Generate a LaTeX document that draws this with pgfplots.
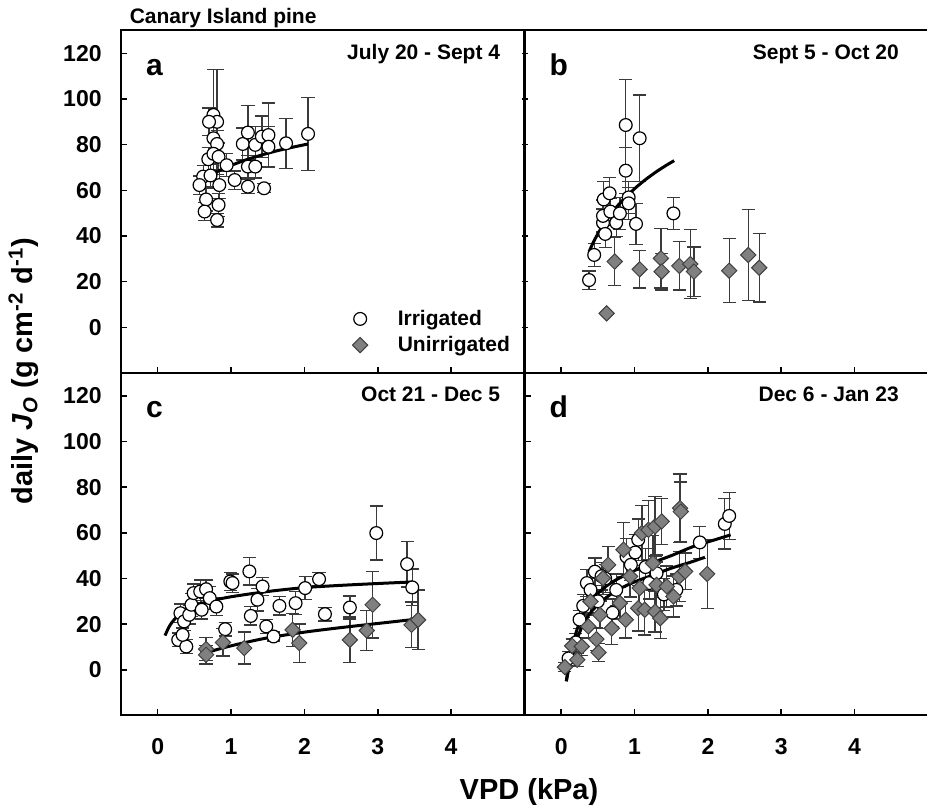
\documentclass[border=0pt]{standalone}
\usepackage{fontspec}
\setmainfont{Liberation Sans}
\usepackage{pgfplots}
\pgfplotsset{compat=1.18}

\definecolor{errgray}{HTML}{3A3A3A}
\definecolor{diafill}{HTML}{808080}

\newcommand{\tickfont}{\fontsize{11.5}{13}\selectfont\bfseries}
\newcommand{\txtfont}{\fontsize{10.5}{12}\selectfont\bfseries}
\newcommand{\lblfont}{\fontsize{14.5}{16}\selectfont\bfseries}

\pgfplotsset{
  panel/.style={
    scale only axis, width=201.75pt, height=171.25pt,
    anchor=south west,
    xmin=-0.5, xmax=5, ymin=-20, ymax=130,
    xtick={0,1,2,3,4}, ytick={0,20,...,120},
    xtick pos=left, ytick pos=left,
    axis line style={line width=1pt},
    every tick/.style={black, line width=0.8pt},
    major tick length=3pt,
    tick label style={font=\tickfont},
    /pgf/number format/assume math mode=true,
    yticklabel style={anchor=east, inner sep=0pt, xshift=-9.5pt},
    xticklabel style={anchor=north, inner sep=0pt, yshift=-11.5pt},
  },
  irr/.style={only marks, mark=*, mark size=3.2pt,
    mark options={fill=white, draw=black, line width=0.6pt},
    error bars/.cd, y dir=both, y explicit,
    error bar style={errgray, line width=0.65pt},
    error mark options={errgray, line width=0.65pt, mark size=3.3pt, rotate=90}},
  unirr/.style={only marks, mark=square*, mark size=2.7pt,
    mark options={rotate=45, fill=diafill, draw=black!75, line width=0.5pt},
    error bars/.cd, y dir=both, y explicit,
    error bar style={errgray, line width=0.65pt},
    error mark options={errgray, line width=0.65pt, mark size=3.3pt, rotate=90}},
  fit/.style={black, line width=1.5pt, smooth, no marks},
}

\begin{document}
\begin{tikzpicture}

% ---- a ----
\begin{axis}[panel, at={(0pt,171.25pt)}, xticklabels={}, xtick align=inside,
  legend style={draw=none, fill=none, at={(rel axis cs:0.558,0.209)}, anchor=north west,
    font=\txtfont, row sep=0pt, /tikz/every odd column/.append style={column sep=13pt}},
  legend cell align=left]
 \addplot[irr] table[x=x, y=y, y error=e] {
x y e
0.76 93.0 20
0.81 90.0 23
0.70 90.0 6
0.76 82.8 8
0.81 80.3 6
0.69 73.6 5
0.76 76.0 7
0.83 74.7 6
0.62 66.0 5
0.57 62.3 4
0.66 56.0 5
0.64 50.7 4
0.83 53.6 5
0.81 47.0 3
0.84 62.3 6
0.72 66.5 5
0.94 71.0 5
1.05 64.5 4
1.16 80.3 7
1.23 85.3 12
1.23 70.4 5
1.23 61.6 3
1.33 70.4 5
1.33 79.9 8
1.42 83.5 9
1.51 84.2 14
1.51 79.1 9
1.45 60.9 2
1.75 80.6 11
2.05 84.7 16
 };
 \addlegendentry{Irrigated}
 \addlegendimage{only marks, mark=square*, mark size=2.7pt, mark options={rotate=45, fill=diafill, draw=black!75, line width=0.5pt}}
 \addlegendentry{Unirrigated}
 \addplot[fit, forget plot] coordinates {(0.52,62.3) (0.6,64.2) (0.7,66.2) (0.8,68) (0.9,69.5) (1.0,70.9) (1.2,73.3) (1.4,75.3) (1.6,77.1) (1.8,78.6) (2.05,80.3)};
 \node[anchor=base west, font=\fontsize{15}{17}\selectfont\bfseries] at (rel axis cs:0.045,0.869) {a};
 \node[anchor=base east, font=\txtfont] at (rel axis cs:0.957,0.916) {July 20 - Sept 4};
\end{axis}

% ---- b ----
\begin{axis}[panel, at={(201.75pt,171.25pt)}, xticklabels={}, yticklabels={}, xtick align=inside, ytick align=center]
 \addplot[irr] table[x=x, y=y, y error=e] {
x y e
0.38 20.7 4
0.45 31.7 5
0.57 45.8 6
0.57 48.8 7
0.60 40.9 6
0.58 56.0 8
0.66 58.7 7
0.67 50.7 6
0.75 45.8 6
0.80 49.9 7
0.88 88.6 20
0.88 68.6 10
0.92 56.9 7
0.92 54.3 7
1.02 45.3 9
1.07 82.8 19
1.53 49.9 7
 };
 \addplot[unirr] table[x=x, y=y, y error=e] {
x y e
0.62 6.1 0
0.73 28.8 10.6
1.07 25.4 8.2
1.36 30.2 13
1.37 24.4 8
1.61 26.9 10.6
1.76 27.7 15
1.81 24.4 10.8
2.29 24.8 14
2.55 31.7 20
2.70 26.1 15
 };
 \addplot[fit] coordinates {(0.38,33.1) (0.45,38) (0.55,43.7) (0.65,48.4) (0.75,52.5) (0.85,56) (1.0,60.7) (1.15,64.7) (1.3,68.2) (1.42,70.7) (1.54,73)};
 \node[anchor=base west, font=\fontsize{15}{17}\selectfont\bfseries] at (rel axis cs:0.045,0.869) {b};
 \node[anchor=base east, font=\txtfont] at (rel axis cs:0.945,0.916) {Sept 5 - Oct 20};
\end{axis}

% ---- c ----
\begin{axis}[panel, at={(0pt,0pt)}]
 \addplot[irr] table[x=x, y=y, y error=e] {
x y e
0.28 13.1 3
0.39 10.2 3
0.34 15.3 3
0.31 24.8 4
0.36 21.2 4
0.43 24.1 4
0.46 28.5 5
0.49 33.6 4
0.58 34.3 5
0.66 35.3 4
0.60 26.3 4
0.71 31.4 5
0.80 27.7 4
0.92 17.8 3
0.99 38.7 4
1.02 38.0 4
1.25 43.1 6
1.27 23.6 4
1.36 30.7 5
1.43 36.5 4
1.48 19.0 3
1.58 14.6 2
1.66 28.0 4
1.88 29.2 5
2.01 35.8 5
2.20 39.7 3
2.28 24.4 3
2.62 27.3 5
2.98 59.9 11.8
3.40 46.3 10
3.47 36.1 8
 };
 \addplot[unirr] table[x=x, y=y, y error=e] {
x y e
0.66 9.1 5
0.66 6.6 4
0.89 12.0 6
1.18 9.5 7
1.84 17.5 7.3
1.93 11.7 8.4
2.62 13.1 10
2.85 17.2 8.8
2.93 28.5 14.6
3.46 19.7 10
3.55 21.9 13
 };
 \addplot[fit] coordinates {(0.10,15) (0.15,18.5) (0.2,21) (0.3,24.5) (0.4,26.5) (0.5,28) (0.7,30) (1.0,32) (1.5,34.3) (2.0,36) (2.5,37) (3.0,37.8) (3.48,38.5)};
 \addplot[fit] coordinates {(0.62,7) (0.8,8.8) (1.0,10.5) (1.2,12) (1.5,14) (2.0,16.5) (2.5,18.5) (3.0,20.3) (3.53,22.2)};
 \node[anchor=base west, font=\fontsize{15}{17}\selectfont\bfseries] at (rel axis cs:0.045,0.869) {c};
 \node[anchor=base east, font=\txtfont] at (rel axis cs:0.957,0.916) {Oct 21 - Dec 5};
\end{axis}

% ---- d ----
\begin{axis}[panel, at={(201.75pt,0pt)}, yticklabels={}, ytick align=inside]
 \addplot[irr] table[x=x, y=y, y error=e] {
x y e
0.10 5.0 3
0.20 12.0 4
0.25 22.0 4
0.30 28.0 5
0.35 38.0 6
0.40 35.0 5
0.46 43.0 6
0.50 30.0 5
0.55 41.0 6
0.60 40.0 6
0.70 25.0 6
0.75 35.0 7
0.89 49.6 8
0.95 46.0 7
1.01 51.4 8
1.05 57.0 9
1.15 45.0 8
1.20 38.0 7
1.30 42.3 8
1.40 33.0 7
1.57 35.0 7
1.89 55.8 7
2.23 63.9 11
2.29 67.4 10.4
 };
 \addplot[unirr] table[x=x, y=y, y error=e] {
x y e
0.05 1.2 2
0.15 10.5 3
0.22 4.4 3
0.28 10.2 4
0.37 19.0 5
0.40 29.9 5
0.48 13.4 5
0.51 7.6 4
0.53 24.1 6
0.57 40.1 7
0.64 46.0 8
0.69 18.2 7
0.80 29.2 7
0.85 52.6 12
0.88 21.9 8
0.94 40.9 9
1.05 27.0 10
1.07 35.8 10
1.10 59.9 12
1.14 26.3 11
1.19 61.3 13
1.25 46.7 12
1.28 62.8 13
1.30 37.2 10
1.28 25.5 9
1.35 22.6 9
1.37 65.0 10
1.44 36.5 9
1.53 32.1 9
1.61 40.9 11
1.62 70.8 15
1.63 69.3 13
1.69 43.1 8
1.99 42.0 15
 };
 \addplot[fit] coordinates {(0.07,-5) (0.12,5) (0.2,16) (0.3,24.5) (0.4,30) (0.5,33.5) (0.65,37.5) (0.8,40.3) (1.0,43.5) (1.25,47) (1.5,50) (1.8,54) (2.1,57) (2.31,59.1)};
 \addplot[fit] coordinates {(0.07,-5) (0.12,3) (0.2,12) (0.3,20) (0.4,25) (0.5,28.5) (0.65,32.5) (0.8,35.5) (1.0,38.5) (1.25,41.5) (1.5,44.5) (1.75,47) (1.96,49.3)};
 \node[anchor=base west, font=\fontsize{15}{17}\selectfont\bfseries] at (rel axis cs:0.045,0.869) {d};
 \node[anchor=base east, font=\txtfont] at (rel axis cs:0.945,0.916) {Dec 6 - Jan 23};
\end{axis}

\node[anchor=base west, font=\txtfont] at (0.85pt,345.75pt) {Canary Island pine};
\node[anchor=base, rotate=90, font=\lblfont] at (-44pt,172.25pt)
  {daily \textit{J}\textsubscript{\textit{O}} (g cm\textsuperscript{-2} d\textsuperscript{-1})};
\node[anchor=base, font=\lblfont] at (204pt,-42.25pt) {VPD (kPa)};

\pgfresetboundingbox
\path[use as bounding box] (-60.5pt,-45.25pt) rectangle (403pt,357.75pt);
\end{tikzpicture}
\end{document}
